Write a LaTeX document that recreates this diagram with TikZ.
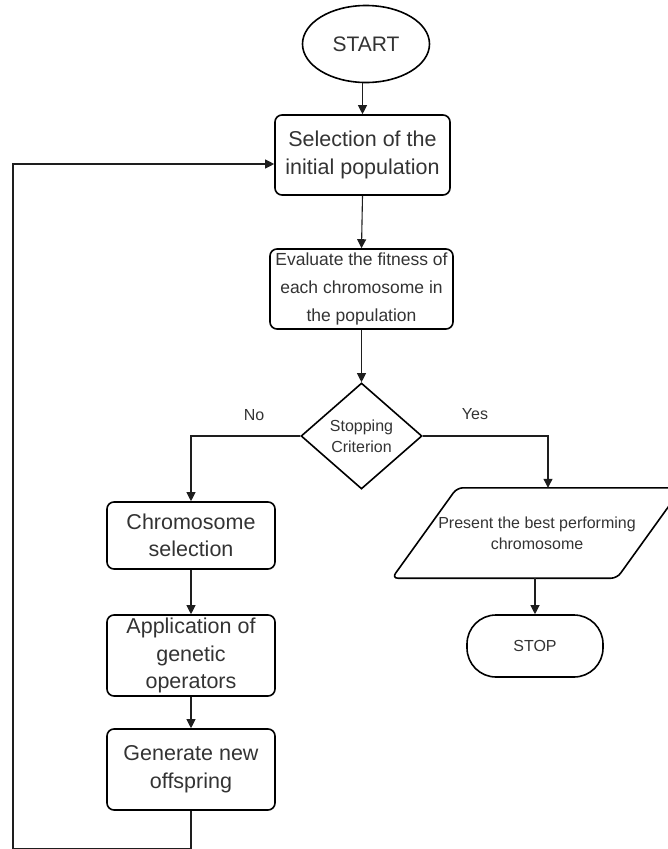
\documentclass[tikz,border=0pt]{standalone}
\usepackage{fontspec}
\setmainfont{Liberation Sans}
\usetikzlibrary{shapes.geometric,arrows.meta,calc}
\definecolor{txt}{HTML}{333333}
\definecolor{wire}{HTML}{1E1E1E}
\begin{document}
\begin{tikzpicture}[x=1pt,y=-1pt,
  shapeline/.style={draw=black,line width=1.6pt},
  box/.style={shapeline,rounded corners=7pt,align=center,text=txt,inner sep=0pt},
  big/.style={font=\fontsize{21.5}{28}\selectfont},
  small/.style={font=\fontsize{16}{21}\selectfont},
  conn/.style={draw=wire,line width=1.1pt,-{Triangle[length=9pt,width=9pt]}},
  lbl/.style={text=txt,font=\fontsize{16}{20}\selectfont,inner sep=0pt}]
\clip (0,0) rectangle (668,849);
\useasboundingbox (0,0) rectangle (668,849);

% terminals and process boxes
\node[shapeline,ellipse,minimum width=127pt,minimum height=77pt,inner sep=0pt,text=txt,
      font=\fontsize{21}{26}\selectfont] (start) at (366,44) {START};
\node[box,big,minimum width=175pt,minimum height=80pt] (sel) at (362.5,155)
  {Selection of the\\initial population};
\node[box,minimum width=183pt,minimum height=80pt,font=\fontsize{17.5}{28}\selectfont]
  (eval) at (361.5,289) {Evaluate the fitness of\\each chromosome in\\the population};
\node[shapeline,diamond,minimum width=121pt,minimum height=106pt,inner sep=0pt,
      align=center,text=txt,small] (dec) at (361.5,436) {Stopping\\Criterion};

\node[box,big,minimum width=168pt,minimum height=67pt,font=\fontsize{21.5}{27}\selectfont]
  (chrom) at (191,535.5) {Chromosome\\selection};
\node[box,big,minimum width=168pt,minimum height=81pt,font=\fontsize{21.5}{27.5}\selectfont]
  (app) at (191,655.5) {Application of\\genetic\\operators};
\node[box,big,minimum width=168pt,minimum height=81pt,font=\fontsize{21.5}{28}\selectfont]
  (gen) at (191,769.5) {Generate new\\offspring};

% output parallelogram
\node[align=center,text=txt,small,minimum width=200pt,minimum height=90pt,inner sep=0pt]
  (present) at (537,533) {Present the best performing\\chromosome};
\draw[shapeline,rounded corners=6pt]
  ($(present.north)+(-80,0)$) -- ($(present.north)+(145,0)$) --
  ($(present.south)+(80,0)$) -- ($(present.south)+(-145,0)$) -- cycle;

\node[shapeline,rounded corners=29pt,minimum width=136pt,minimum height=62pt,inner sep=0pt,
      text=txt,small] (stop) at (535,646) {STOP};

% connectors
\draw[conn] (start.south -| sel.north) -- (sel.north);
\draw[conn] (sel.south) -- (eval.north);
\draw[conn] (eval.south) -- (dec.north);
\draw[conn] (dec.west) -| (chrom.north);
\draw[conn] (dec.east) -| ($(present.north)+(11,0)$);
\draw[conn] (present.south -| stop.north) -- (stop.north);
\draw[conn] (chrom.south) -- (app.north);
\draw[conn] (app.south) -- (gen.north);
\coordinate (loopcorner) at (13,849);
\draw[conn] (gen.south) |- (loopcorner) |- ($(sel.west)+(0,9)$);

% branch labels
\node[lbl] (nolbl) at (254,415) {No};
\node[lbl] (yeslbl) at (475,414) {Yes};
\end{tikzpicture}
\end{document}
